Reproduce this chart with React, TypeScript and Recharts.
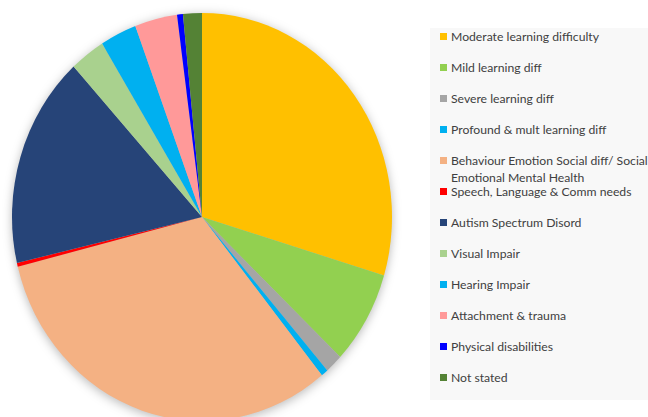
import { PieChart, Pie, Cell } from "recharts";

const categories = [
  "Moderate learning difficulty",
  "Mild learning diff",
  "Severe learning diff",
  "Profound & mult learning diff",
  "Behaviour Emotion Social diff/ Social Emotional Mental Health",
  "Speech, Language & Comm needs",
  "Autism Spectrum Disord",
  "Visual Impair",
  "Hearing Impair",
  "Attachment & trauma",
  "Physical disabilities",
  "Not stated",
];

const shares = [29.6, 7.4, 1.5, 0.6, 31.9, 0.3, 16.8, 3.0, 3.1, 3.6, 0.5, 1.6];

const colors = [
  "#FFC000",
  "#92D050",
  "#A5A5A5",
  "#00B0F0",
  "#F4B183",
  "#FF0000",
  "#264478",
  "#A9D18E",
  "#00B0F0",
  "#FF9999",
  "#0000FF",
  "#548235",
];

const data = categories.map((name, i) => ({ name, value: shares[i] }));

export default function App() {
  return (
    <div
      style={{
        position: "absolute",
        left: 0,
        top: 0,
        width: 648,
        height: 417,
        overflow: "hidden",
        background: "#fff",
        fontFamily: "Lato, 'Open Sans', sans-serif",
      }}
    >
      <div
        style={{
          position: "absolute",
          left: 0,
          top: 0,
          transform: "scaleY(1.074)",
          transformOrigin: "0 217px",
          filter: "drop-shadow(0 2px 5px rgba(0,0,0,0.28))",
        }}
      >
        <PieChart
          width={420}
          height={417}
          margin={{ top: 0, right: 0, bottom: 0, left: 0 }}
        >
          <Pie
            data={data}
            dataKey="value"
            nameKey="name"
            cx={202}
            cy={217}
            outerRadius={190}
            startAngle={90}
            endAngle={-270}
            stroke="none"
            isAnimationActive={false}
          >
            {data.map((d, i) => (
              <Cell key={d.name} fill={colors[i]} />
            ))}
          </Pie>
        </PieChart>
      </div>

      <div
        style={{
          position: "absolute",
          left: 430,
          top: 28,
          width: 218,
          height: 372,
          background: "#f8f8f8",
        }}
      />
      {categories.map((name, i) => (
        <div
          key={name}
          style={{
            position: "absolute",
            left: 440,
            top: 28 + i * 31,
            width: 210,
            display: "flex",
            alignItems: "flex-start",
            fontSize: 12.2,
            lineHeight: "17px",
            color: "#404040",
          }}
        >
          <span
            style={{
              display: "inline-block",
              width: 7,
              height: 7,
              marginTop: 5,
              marginRight: 4,
              flexShrink: 0,
              background: colors[i],
            }}
          />
          <span style={{ width: 198 }}>{name}</span>
        </div>
      ))}
    </div>
  );
}
